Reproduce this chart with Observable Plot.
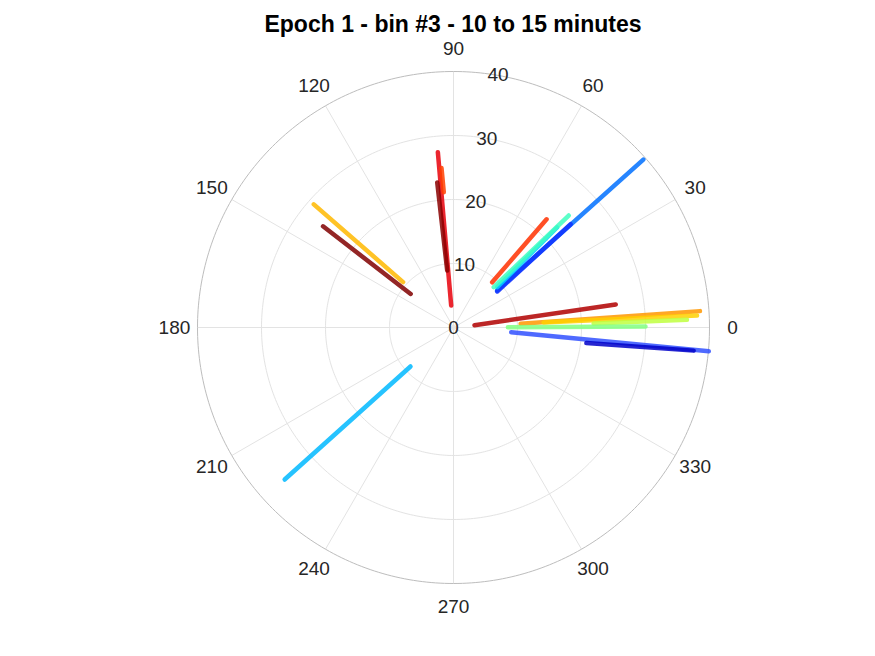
<!DOCTYPE html>
<html>
<head>
<meta charset="utf-8">
<script src="https://cdn.jsdelivr.net/npm/d3@7"></script>
<script src="https://cdn.jsdelivr.net/npm/@observablehq/plot@0.6"></script>
<style>
  body { margin: 0; background: #fff; }
  #wrap { position: relative; width: 875px; height: 656px; }
  #chart { position: absolute; left: 0; top: 0; }
  #title { position: absolute; left: 453px; top: 11px; transform: translateX(-50%); white-space: nowrap; z-index: 2;
           font: bold 23px "Liberation Sans", Arial, sans-serif; color: #000; line-height: 1.15; }
</style>
</head>
<body>
<div id="wrap">
  <div id="chart"></div>
  <div id="title">Epoch 1 - bin #3 - 10 to 15 minutes</div>
</div>
<script>
// Track data (polar: angle in degrees, radius in units)
const trackAngleStart = [95.1, 94.3, 96.4, 6.3, 3.2, 3.2, 1.6, 0.3, 355.3, 353.3, 40.3, 39.5, 42.7, 45.0, 49.5, 138.6, 142.2, 222.0];
const trackRStart     = [27.5, 25.0, 22.8, 3.3, 10.5, 14.1, 21.9, 8.5, 9.05, 20.9, 8.95, 8.85, 9.3, 8.9, 9.3, 29.1, 25.8, 35.5];
const trackAngleEnd   = [96.0, 94.1, 96.3, 8.1, 3.8, 2.8, 1.9, 0.3, 354.7, 354.5, 41.5, 41.4, 44.0, 44.2, 49.3, 138.0, 141.9, 222.2];
const trackREnd       = [3.46, 21.2, 8.96, 25.6, 38.6, 38.1, 36.5, 30.0, 40.06, 37.7, 39.6, 24.4, 22.5, 25.1, 22.3, 10.6, 8.5, 9.07];
const trackColor      = ["#e8000a", "#ff4000", "#8a0000", "#b00000", "#ff9800", "#ffd000", "#c0ff40", "#80ff80", "#3050ff", "#0000c8", "#0070ff", "#1030ff", "#00d0ff", "#40ffc0", "#ff3000", "#ffb800", "#800000", "#00b8ff"];

const thetaTicks = [0, 30, 60, 90, 120, 150, 180, 210, 240, 270, 300, 330];
const rTicks = [0, 10, 20, 30, 40];
const rMax = 40;
const rLabelAngle = 80;
const thetaLabelR = 43.6;

const rad = d => d * Math.PI / 180;
const px = (a, r) => r * Math.cos(rad(a));
const py = (a, r) => r * Math.sin(rad(a));

const tracks = trackColor.map((c, i) => ({
  a1: trackAngleStart[i], r1: trackRStart[i], a2: trackAngleEnd[i], r2: trackREnd[i], color: c
}));

const ringAngles = d3.range(0, 361, 1);
const rings = [];
for (const r of rTicks.filter(r => r > 0)) for (const a of ringAngles) rings.push({r, a});

const plot = Plot.plot({
  width: 875,
  height: 656,
  x: {domain: [-40, 40], range: [197, 709], axis: null},
  y: {domain: [-40, 40], range: [583, 71], axis: null},
  marks: [
    Plot.link(thetaTicks, {x1: 0, y1: 0, x2: a => px(a, rMax), y2: a => py(a, rMax), stroke: "#e3e3e3", strokeWidth: 1}),
    Plot.line(rings.filter(d => d.r < rMax), {x: d => px(d.a, d.r), y: d => py(d.a, d.r), z: "r", stroke: "#e3e3e3", strokeWidth: 1}),
    Plot.line(rings.filter(d => d.r === rMax), {x: d => px(d.a, d.r), y: d => py(d.a, d.r), stroke: "#bdbdbd", strokeWidth: 1}),
    Plot.link(tracks, {x1: d => px(d.a1, d.r1), y1: d => py(d.a1, d.r1), x2: d => px(d.a2, d.r2), y2: d => py(d.a2, d.r2),
      stroke: d => d.color, strokeWidth: 4.5, strokeLinecap: "round", strokeOpacity: 0.85}),
    Plot.text(thetaTicks, {x: a => px(a, thetaLabelR), y: a => py(a, thetaLabelR), text: a => String(a),
      fontSize: 19, fill: "#262626", fontFamily: "Liberation Sans, Arial, sans-serif", textAnchor: "middle", lineAnchor: "middle"}),
    Plot.text(rTicks, {x: r => px(rLabelAngle, r), y: r => py(rLabelAngle, r), text: r => String(r),
      fontSize: 19, fill: "#262626", fontFamily: "Liberation Sans, Arial, sans-serif", textAnchor: "middle", lineAnchor: "middle"})
  ]
});
document.getElementById("chart").appendChild(plot);
</script>
</body>
</html>
